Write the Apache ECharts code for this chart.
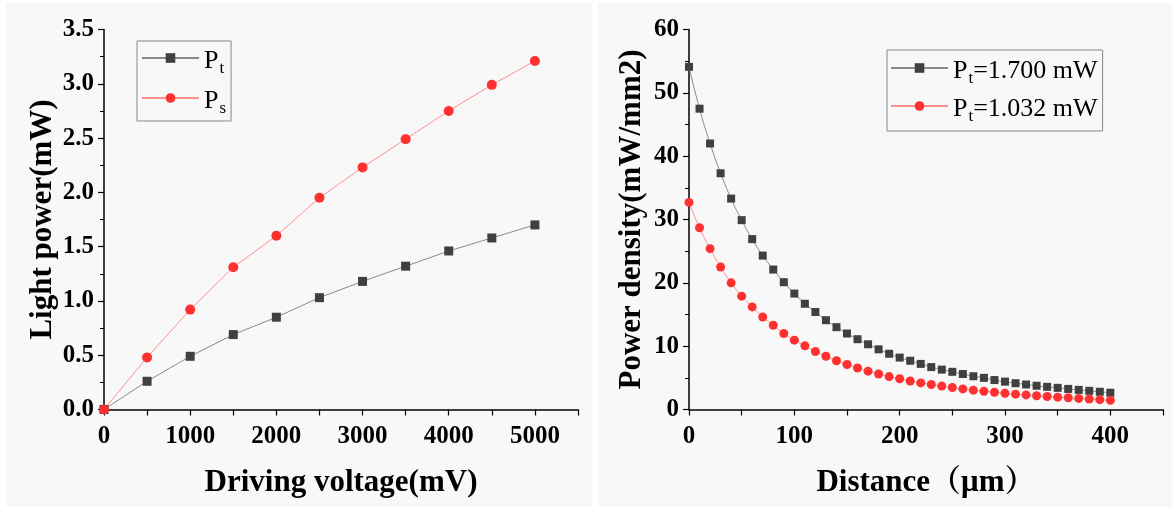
<!DOCTYPE html>
<html>
<head>
<meta charset="utf-8">
<script src="https://cdn.jsdelivr.net/npm/echarts@6/dist/echarts.min.js"></script>
<style>
  html, body { margin: 0; padding: 0; background: #fff; }
  #chart { width: 1172px; height: 507px; }
</style>
</head>
<body>
<div id="chart"></div>
<script>
// left panel: light power vs driving voltage
const voltage = [0, 500, 1000, 1500, 2000, 2500, 3000, 3500, 4000, 4500, 5000];
const powerPt = [0, 0.26, 0.49, 0.69, 0.85, 1.03, 1.18, 1.32, 1.46, 1.58, 1.70];
const powerPs = [0, 0.48, 0.92, 1.31, 1.60, 1.95, 2.23, 2.49, 2.75, 2.99, 3.21];

// right panel: power density vs distance (every 10 µm)
const distance = [0, 10, 20, 30, 40, 50, 60, 70, 80, 90, 100, 110, 120, 130, 140, 150, 160, 170, 180, 190,
  200, 210, 220, 230, 240, 250, 260, 270, 280, 290, 300, 310, 320, 330, 340, 350, 360, 370, 380, 390, 400];
const density1700 = [54.1, 47.5, 42.0, 37.3, 33.3, 29.9, 26.9, 24.3, 22.1, 20.1, 18.3, 16.7, 15.4, 14.1, 13.0,
  12.0, 11.1, 10.3, 9.5, 8.8, 8.2, 7.7, 7.2, 6.7, 6.3, 5.95, 5.6, 5.25, 5.0, 4.65, 4.4, 4.15, 3.95, 3.75,
  3.58, 3.42, 3.25, 3.1, 2.95, 2.8, 2.65];
const density1032 = [32.7, 28.7, 25.4, 22.5, 20.0, 17.9, 16.2, 14.6, 13.3, 12.0, 10.95, 10.05, 9.15, 8.4, 7.7,
  7.1, 6.55, 6.05, 5.6, 5.2, 4.85, 4.5, 4.2, 3.95, 3.7, 3.47, 3.25, 3.05, 2.88, 2.72, 2.57, 2.42, 2.3, 2.17,
  2.05, 1.95, 1.85, 1.75, 1.65, 1.55, 1.45];

const leftNames = ['Pt', 'Ps'];
const rightNames = ['Pt=1.700 mW', 'Pt=1.032 mW'];

const serif = "'Times New Roman', 'Liberation Serif', 'Noto Serif CJK SC', 'Noto Sans CJK SC', serif";
const darkColor = '#404040';
const redColor = '#ff3030';

function pairs(xs, ys) {
  return xs.map((x, i) => [x, ys[i]]);
}

function axisBase() {
  return {
    axisLine: { show: true, onZero: false, lineStyle: { color: '#000', width: 1.5 } },
    axisTick: { show: true, inside: false, length: 6, lineStyle: { color: '#000', width: 1.2 } },
    splitLine: { show: false },
    nameLocation: 'middle',
    nameTextStyle: { fontFamily: serif, fontWeight: 'bold', fontSize: 31, color: '#000' },
    axisLabel: { fontFamily: serif, fontWeight: 'bold', fontSize: 25, color: '#000' },
  };
}

// text sits a bit below the legend line, subscript further down
function legendRich() {
  return {
    m: { fontFamily: serif, fontSize: 26, color: '#000', lineHeight: 34, verticalAlign: 'top', padding: [7, 0, 0, 0] },
    s: { fontFamily: serif, fontSize: 17, color: '#000', lineHeight: 14, verticalAlign: 'top', padding: [19, 0, 0, 1] },
  };
}

const chart = echarts.init(document.getElementById('chart'));

const option = {
  backgroundColor: '#ffffff',
  animation: false,
  graphic: [
    { type: 'rect', z: -10, shape: { x: 6, y: 3, width: 586, height: 504 }, style: { fill: '#f8f8f8' } },
    { type: 'rect', z: -10, shape: { x: 598, y: 3, width: 574, height: 504 }, style: { fill: '#f8f8f8' } },
  ],
  grid: [
    { left: 104, top: 29.5, width: 474, height: 380 },
    { left: 689, top: 29.5, width: 474, height: 380 },
  ],
  legend: [
    {
      data: leftNames,
      orient: 'vertical',
      left: 137,
      top: 41,
      padding: [0, 5, 4, 4],
      itemGap: 4,
      itemWidth: 57,
      itemHeight: 12,
      borderColor: '#888',
      borderWidth: 1,
      formatter: n => '{m|P}{s|' + n.slice(1) + '}',
      textStyle: { rich: legendRich() },
    },
    {
      data: rightNames,
      orient: 'vertical',
      left: 887,
      top: 50,
      padding: [1, 5, 6, 3],
      itemGap: 2,
      itemWidth: 57,
      itemHeight: 12,
      borderColor: '#888',
      borderWidth: 1,
      formatter: n => '{m|P}{s|t}{m|' + n.slice(2) + '}',
      textStyle: { rich: legendRich() },
    },
  ],
  xAxis: [
    Object.assign(axisBase(), {
      gridIndex: 0, type: 'value', min: 0, max: 5500, interval: 500,
      name: 'Driving voltage(mV)', nameGap: 58,
      axisLabel: Object.assign(axisBase().axisLabel, {
        margin: 15, formatter: v => (v % 1000 === 0 ? String(v) : ''),
      }),
    }),
    Object.assign(axisBase(), {
      gridIndex: 1, type: 'value', min: 0, max: 450, interval: 50,
      name: 'Distance（μm）', nameGap: 58,
      axisLabel: Object.assign(axisBase().axisLabel, {
        margin: 15, formatter: v => (v % 100 === 0 ? String(v) : ''),
      }),
    }),
  ],
  yAxis: [
    Object.assign(axisBase(), {
      gridIndex: 0, type: 'value', min: 0, max: 3.5, interval: 0.5,
      name: 'Light power(mW)', nameGap: 44, nameRotate: 90,
      minorTick: { show: true, splitNumber: 2, length: 4, lineStyle: { color: '#000', width: 1 } },
      axisLabel: Object.assign(axisBase().axisLabel, { margin: 10, formatter: v => v.toFixed(1) }),
    }),
    Object.assign(axisBase(), {
      gridIndex: 1, type: 'value', min: 0, max: 60, interval: 10,
      name: 'Power density(mW/mm2)', nameGap: 42, nameRotate: 90,
      minorTick: { show: true, splitNumber: 2, length: 4, lineStyle: { color: '#000', width: 1 } },
      axisLabel: Object.assign(axisBase().axisLabel, { margin: 10 }),
    }),
  ],
  series: [
    {
      name: leftNames[0], type: 'line', xAxisIndex: 0, yAxisIndex: 0,
      data: pairs(voltage, powerPt),
      symbol: 'rect', symbolSize: 9,
      itemStyle: { color: darkColor },
      lineStyle: { color: '#8a8a8a', width: 1 },
    },
    {
      name: leftNames[1], type: 'line', xAxisIndex: 0, yAxisIndex: 0,
      data: pairs(voltage, powerPs),
      symbol: 'circle', symbolSize: 10,
      itemStyle: { color: redColor },
      lineStyle: { color: '#ff8f8f', width: 1 },
    },
    {
      name: rightNames[0], type: 'line', xAxisIndex: 1, yAxisIndex: 1,
      data: pairs(distance, density1700),
      smooth: true,
      symbol: 'rect', symbolSize: 8,
      itemStyle: { color: darkColor },
      lineStyle: { color: '#8a8a8a', width: 1 },
    },
    {
      name: rightNames[1], type: 'line', xAxisIndex: 1, yAxisIndex: 1,
      data: pairs(distance, density1032),
      smooth: true,
      symbol: 'circle', symbolSize: 9,
      itemStyle: { color: redColor },
      lineStyle: { color: '#ff8f8f', width: 1 },
    },
  ],
};

chart.setOption(option);
</script>
</body>
</html>
